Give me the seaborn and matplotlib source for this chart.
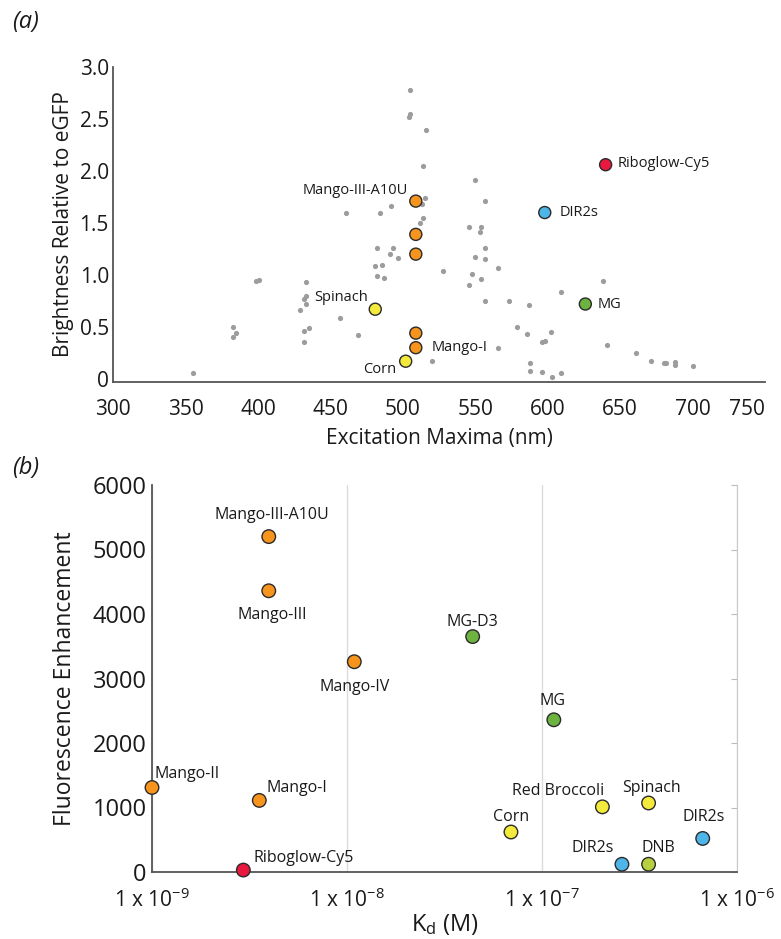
import matplotlib
matplotlib.use("Agg")
import matplotlib.pyplot as plt
import seaborn as sns
import pandas as pd
from matplotlib.ticker import LogLocator, NullFormatter

# ---------- dane: panel (a) ----------
szare_nm = [505, 505, 504, 516, 514, 550, 515, 513, 492, 557, 484, 461, 514, 512,
            546, 554, 553, 482, 493, 557, 491, 497, 550, 557, 481, 486, 566, 528,
            548, 482, 487, 554, 399, 401, 433, 638, 546, 609, 433, 432, 433, 557,
            573, 587, 429, 457, 383, 385, 383, 435, 432, 579, 602, 469, 586, 432,
            596, 598, 641, 566, 661, 520, 671, 680, 682, 688, 688, 700, 588, 588,
            596, 609, 603, 355]
szare_jasnosc = [2.78, 2.55, 2.52, 2.39, 2.05, 1.91, 1.74, 1.68, 1.66, 1.71, 1.60, 1.60,
                 1.55, 1.50, 1.46, 1.46, 1.41, 1.26, 1.26, 1.26, 1.20, 1.16, 1.17, 1.15,
                 1.09, 1.10, 1.07, 1.04, 1.01, 0.99, 0.97, 0.96, 0.94, 0.95, 0.93, 0.94,
                 0.90, 0.84, 0.80, 0.77, 0.72, 0.75, 0.75, 0.71, 0.66, 0.59, 0.50, 0.44,
                 0.40, 0.49, 0.46, 0.50, 0.45, 0.42, 0.43, 0.35, 0.35, 0.36, 0.33, 0.30,
                 0.25, 0.17, 0.17, 0.15, 0.15, 0.16, 0.13, 0.12, 0.15, 0.08, 0.07, 0.06,
                 0.02, 0.06]

a_nazwy = ["Mango-III-A10U", "", "", "", "Mango-I", "Spinach", "Corn", "DIR2s", "MG", "Riboglow-Cy5"]
a_grupy = ["mango", "mango", "mango", "mango", "mango", "zolty", "zolty", "niebieski", "zielony", "czerwony"]
a_nm = [509, 509, 509, 509, 509, 481, 502, 598, 626, 640]
a_jasnosc = [1.71, 1.39, 1.20, 0.44, 0.30, 0.67, 0.17, 1.60, 0.72, 2.06]
# przesunięcia etykiet w px: (dx, dy, wyrównanie)
a_etykiety = {"Mango-III-A10U": (-8, 11, "right"), "Mango-I": (16, 0, "left"),
              "Spinach": (-7, 12, "right"), "Corn": (-9, -8, "right"),
              "DIR2s": (15, 0, "left"), "MG": (12, 0, "left"), "Riboglow-Cy5": (12, 1, "left")}

a_yticks = [0, 0.5, 1.0, 1.5, 2.0, 2.5, 3.0]
a_ylabels = ["0", "0.5", "1.0", "1.5", "2.0", "2.5", "3.0"]
a_xticks = [300, 350, 400, 450, 500, 550, 600, 650, 700, 750]

# ---------- dane: panel (b) ----------
b_nazwy = ["Mango-III-A10U", "Mango-III", "Mango-IV", "Mango-II", "Mango-I", "Riboglow-Cy5",
           "MG-D3", "MG", "Red Broccoli", "Spinach", "Corn", "DIR2s", "DIR2s ", "DNB"]
b_grupy = ["mango", "mango", "mango", "mango", "mango", "czerwony", "zielony", "zielony",
           "zolty", "zolty", "zolty", "niebieski", "niebieski", "dnb"]
b_kd = [3.97e-9, 3.97e-9, 1.09e-8, 1.0e-9, 3.55e-9, 2.94e-9, 4.41e-8, 1.15e-7,
        2.04e-7, 3.52e-7, 6.93e-8, 6.67e-7, 2.57e-7, 3.52e-7]
b_wzmocnienie = [5200, 4360, 3260, 1310, 1110, 30, 3650, 2360, 1010, 1070, 620, 520, 120, 120]
b_etykiety = {"Mango-III-A10U": (3, 22, "center"), "Mango-III": (3, -24, "center"),
              "Mango-IV": (0, -25, "center"), "Mango-II": (2, 14, "left"),
              "Mango-I": (7, 12, "left"), "Riboglow-Cy5": (10, 12, "left"),
              "MG-D3": (0, 15, "center"), "MG": (-1, 19, "center"),
              "Red Broccoli": (-44, 16, "center"), "Spinach": (3, 15, "center"),
              "Corn": (0, 15, "center"), "DIR2s": (1, 21, "center"),
              "DIR2s ": (-29, 16, "center"), "DNB": (10, 16, "center")}
b_xticks = [1e-9, 1e-8, 1e-7, 1e-6]
b_xlabels = [r"1 x 10$^{-9}$", r"1 x 10$^{-8}$", r"1 x 10$^{-7}$", r"1 x 10$^{-6}$"]
b_yticks = [0, 1000, 2000, 3000, 4000, 5000, 6000]

kolory = {"mango": "#F7941D", "zolty": "#F4EA3C", "zielony": "#6DB33F",
          "niebieski": "#4DB5E8", "czerwony": "#E8183F", "dnb": "#B6D040"}

sns.set_style("white")
plt.rcParams["font.family"] = ["Open Sans", "DejaVu Sans"]
plt.rcParams["mathtext.fontset"] = "custom"
plt.rcParams["mathtext.rm"] = "Open Sans"
plt.rcParams["mathtext.it"] = "Open Sans:italic"

PX = 0.72  # px -> pt przy dpi=100

fig = plt.figure(figsize=(7.81, 9.39), dpi=100)
ax1 = fig.add_axes([113 / 781, 1 - 382 / 939, (765 - 113) / 781, (382 - 67) / 939])
ax2 = fig.add_axes([152 / 781, 1 - 872 / 939, (737 - 152) / 781, (872 - 485) / 939])

# ---------- panel (a) ----------
df_szare = pd.DataFrame({"nm": szare_nm, "b": szare_jasnosc})
sns.scatterplot(data=df_szare, x="nm", y="b", ax=ax1, color="#9c9c9c", s=14,
                linewidth=0, legend=False)
df_a = pd.DataFrame({"nazwa": a_nazwy, "grupa": a_grupy, "nm": a_nm, "b": a_jasnosc})
sns.scatterplot(data=df_a, x="nm", y="b", hue="grupa", palette=kolory, ax=ax1, s=75,
                edgecolor="#2b2b2b", linewidth=1.0, legend=False, zorder=3)
for _, r in df_a.iterrows():
    if r["nazwa"] in a_etykiety:
        dx, dy, ha = a_etykiety[r["nazwa"]]
        ax1.annotate(r["nazwa"], (r["nm"], r["b"]), xytext=(dx * PX, dy * PX),
                     textcoords="offset points", ha=ha, va="center", fontsize=10.5,
                     color="#1a1a1a")

ax1.set_xlim(300, 750)
ax1.set_ylim(-0.03, 3.0)
ax1.set_xticks(a_xticks)
ax1.set_yticks(a_yticks)
ax1.set_yticklabels(a_ylabels)
ax1.tick_params(length=0, labelsize=15, colors="#1a1a1a")
ax1.tick_params(axis="x", pad=12)
ax1.tick_params(axis="y", pad=3)
ax1.get_xticklabels()[-1].set_horizontalalignment("right")
ax1.set_xlabel("Excitation Maxima (nm)", fontsize=15, color="#1a1a1a", labelpad=6)
ax1.set_ylabel("Brightness Relative to eGFP", fontsize=15, color="#1a1a1a", labelpad=4)
sns.despine(ax=ax1)
for s in ["left", "bottom"]:
    ax1.spines[s].set_color("#555555")
    ax1.spines[s].set_linewidth(1.3)

# ---------- panel (b) ----------
df_b = pd.DataFrame({"nazwa": b_nazwy, "grupa": b_grupy, "kd": b_kd, "fe": b_wzmocnienie})
sns.scatterplot(data=df_b, x="kd", y="fe", hue="grupa", palette=kolory, ax=ax2, s=95,
                edgecolor="#2b2b2b", linewidth=1.0, legend=False, zorder=3, clip_on=False)
for _, r in df_b.iterrows():
    dx, dy, ha = b_etykiety[r["nazwa"]]
    ax2.annotate(r["nazwa"].strip(), (r["kd"], r["fe"]), xytext=(dx * PX, dy * PX),
                 textcoords="offset points", ha=ha, va="center", fontsize=11.5,
                 color="#1a1a1a")

ax2.set_xscale("log")
ax2.set_xlim(1e-9, 1e-6)
ax2.set_ylim(0, 6000)
ax2.set_xticks(b_xticks)
ax2.set_xticklabels(b_xlabels)
ax2.xaxis.set_minor_locator(LogLocator(base=10, subs=range(2, 10)))
ax2.xaxis.set_minor_formatter(NullFormatter())
ax2.set_yticks(b_yticks)
ax2.grid(axis="x", which="major", color="#dcdcdc", linewidth=1.0)
ax2.tick_params(axis="x", which="major", length=0, labelsize=15, pad=12, colors="#1a1a1a")
ax2.tick_params(axis="x", which="minor", direction="in", length=4, color="#555555")
ax2.tick_params(axis="y", which="major", left=False, right=True, direction="in",
                length=4, labelsize=17, colors="#1a1a1a", pad=4)
ax2.tick_params(axis="y", which="major", color="#bbbbbb")
ax2.set_xlabel(r"K$_\mathrm{d}$ (M)", fontsize=17, color="#1a1a1a", labelpad=0)
ax2.set_ylabel("Fluorescence Enhancement", fontsize=16.5, color="#1a1a1a", labelpad=11)
ax2.spines["top"].set_visible(False)
ax2.spines["right"].set_color("#c8c8c8")
for s in ["left", "bottom"]:
    ax2.spines[s].set_color("#555555")
    ax2.spines[s].set_linewidth(1.3)

fig.text(12 / 781, 1 - 22 / 939, "(a)", fontsize=17, style="italic", va="center", color="#1a1a1a")
fig.text(12 / 781, 1 - 468 / 939, "(b)", fontsize=17, style="italic", va="center", color="#1a1a1a")

fig.savefig("out.png", dpi=100)
